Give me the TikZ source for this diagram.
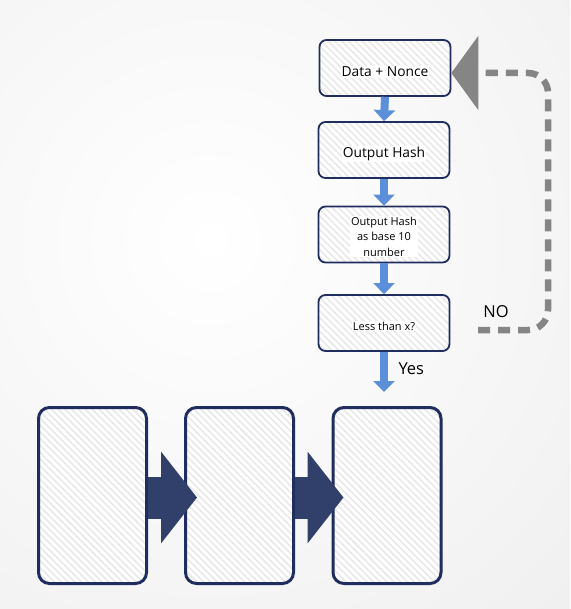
\documentclass[tikz,border=0pt]{standalone}
\usepackage{fontspec}
\setmainfont{Open Sans}
\usepackage{tikz}
\usetikzlibrary{arrows.meta,patterns.meta}

\definecolor{navy}{HTML}{1F2E5E}
\definecolor{flowblue}{HTML}{5B8FD9}
\definecolor{loopgray}{HTML}{858585}

\tikzset{
  hatched/.style={preaction={fill=white},
    pattern={Lines[angle=-45,distance=4.8pt,line width=1.6pt]},
    pattern color=black!9},
  stepbox/.style={draw=navy,line width=1.8pt,rounded corners=7pt,hatched,
    minimum width=131pt,minimum height=56pt,inner sep=0pt},
  blockbox/.style={draw=navy,line width=3pt,rounded corners=11pt,hatched,
    minimum width=108pt,minimum height=176pt,inner sep=0pt},
  txt/.style={fill=white,inner sep=1pt,align=center},
  flow/.style={flowblue,line width=8pt,-{Triangle[width=21pt,length=11pt]}},
  bigarrow/.style={navy!92!white,line width=42pt,-{Triangle[width=90pt,length=36pt]}},
}

\begin{document}
\begin{tikzpicture}[x=1pt,y=1pt]
    % background
    \useasboundingbox (0,0) rectangle (570,-609);
    \begin{scope}
      \clip (0,0) rectangle (570,-609);
      \fill[black!9] (0,0) rectangle (570,-609);
      \shade[inner color=white,outer color=black!9] (210,-240) circle (780);
    \end{scope}

    % flow chart
    \node[stepbox] (data) at (385,-68) {};
    \node[stepbox] (hash) at (384,-150) {};
    \node[stepbox] (dec) at (384,-234.5) {};
    \node[stepbox] (less) at (384,-323) {};
    \node[txt,font=\fontsize{13.8}{16}\selectfont] (data-t) at ([yshift=-4pt]data.center) {Data + Nonce};
    \node[txt,font=\fontsize{13.8}{16}\selectfont] (hash-t) at ([yshift=-4pt]hash.center) {Output Hash};
    \node[txt,font=\fontsize{11}{15.5}\selectfont] (dec-t) at ([yshift=-2pt]dec.center) {Output Hash\\as base 10\\number};
    \node[txt,font=\fontsize{11}{13}\selectfont] (less-t) at ([yshift=-3pt]less.center) {Less than x?};

    \draw[flow] (data.south) -- (hash.north);
    \draw[flow] (hash.south) -- (dec.north);
    \draw[flow] (dec.south) -- (less.north);
    \coordinate (yes-end) at (384,-392);
    \draw[flow] (less.south) -- (yes-end);
    \node[font=\fontsize{16.5}{18}\selectfont,anchor=west] (yes) at (395,-369) {Yes};

    % loop back
    \coordinate (no-start) at (478,-330);
    \node[font=\fontsize{16.5}{18}\selectfont] (no) at (496,-312) {NO};
    \draw[loopgray,line width=6.5pt,dash pattern=on 12pt off 8pt,rounded corners=20pt,
      -{Triangle[width=73pt,length=27pt]}]
      (no-start) -- (548,-330) -- (548,-73) -- ([yshift=-5pt]data.east);

    % chain of blocks
    \node[blockbox] (blk1) at (92.5,-495.5) {};
    \node[blockbox] (blk2) at (239.5,-495.5) {};
    \node[blockbox] (blk3) at (387,-495.5) {};
    \draw[bigarrow] ([yshift=-2pt]blk1.east) -- ([xshift=13pt,yshift=-2pt]blk2.west);
    \draw[bigarrow] ([yshift=-2pt]blk2.east) -- ([xshift=12pt,yshift=-2pt]blk3.west);
  \end{tikzpicture}
\end{document}
